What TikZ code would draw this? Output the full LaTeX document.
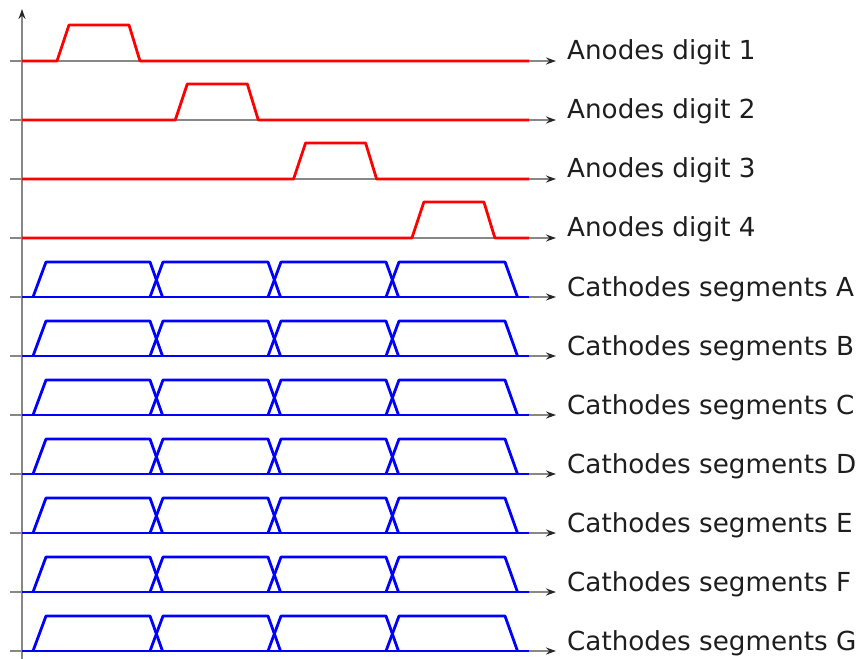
\documentclass[tikz,border=0pt]{standalone}
\usepackage{fontspec}
\setmainfont{DejaVu Sans}
\usetikzlibrary{arrows.meta}
\definecolor{sigred}{RGB}{255,0,0}
\definecolor{sigblue}{RGB}{0,0,255}
\definecolor{axisgray}{RGB}{135,135,135}
\definecolor{tipgray}{RGB}{40,40,40}
\definecolor{labelgray}{RGB}{30,30,30}
\begin{document}
\begin{tikzpicture}[x=1pt,y=-1pt,
  axisline/.style={axisgray,line width=2pt,-{Stealth[length=10pt,width=7pt,tipgray]}},
  redsig/.style={sigred,line width=2.8pt,line join=round},
  bluesig/.style={sigblue,line width=2.8pt,line join=round},
  lbl/.style={anchor=base west,inner sep=0pt,text=labelgray,font=\fontsize{26.2}{31}\selectfont}]
\useasboundingbox (0,0) rectangle (863,659);
% vertical axis
\coordinate (ybot) at (22,659);
\coordinate (ytop) at (22,9);
\draw[axisline] (ybot) -- (ytop);
% anode rows
\foreach \i in {0,1,2,3}{
  \pgfmathsetmacro{\y}{61+59*\i}
  \pgfmathsetmacro{\s}{57+118.3*\i}
  \pgfmathtruncatemacro{\n}{\i+1}
  \coordinate (as\n) at (10,\y);
  \coordinate (ae\n) at (556,\y);
  \draw[axisline] (as\n) -- (ae\n);
  \draw[redsig] (22,\y) -- (\s,\y) -- (\s+12,\y-36) -- (\s+72,\y-36) -- (\s+83,\y) -- (529,\y);
  \node[lbl] (al\n) at (567,\y-1.5) {Anodes digit \n};
}
% cathode rows
\foreach \j/\L in {0/A,1/B,2/C,3/D,4/E,5/F,6/G}{
  \pgfmathsetmacro{\y}{297+59*\j}
  \coordinate (cs\L) at (10,\y);
  \coordinate (ce\L) at (556,\y);
  \draw[axisline] (cs\L) -- (ce\L);
  \draw[bluesig] (22,\y) -- (529,\y);
  \foreach \a/\b in {33/150,150/268,268/386,386/505}{
    \draw[bluesig] (\a,\y) -- (\a+13,\y-35) -- (\b,\y-35) -- (\b+12.5,\y);
  }
  \node[lbl] (cl\L) at (567,\y-1) {Cathodes segments \L};
}
\end{tikzpicture}
\end{document}
